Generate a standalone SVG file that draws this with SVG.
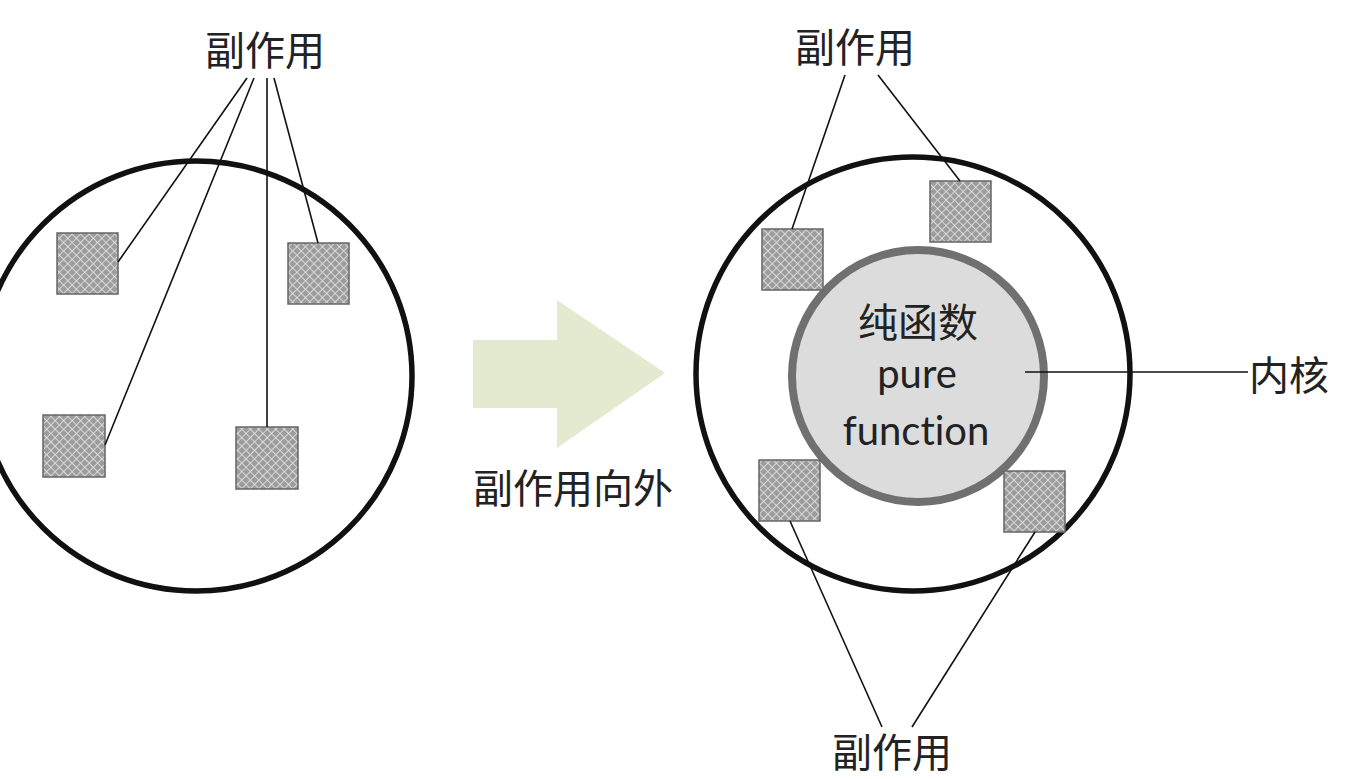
<svg xmlns="http://www.w3.org/2000/svg" width="1367" height="779" viewBox="0 0 1367 779">
<style>
.cjk{font-family:"Noto Sans CJK SC","Noto Sans",sans-serif;font-size:40px;fill:#222;text-anchor:middle}
.lat{font-family:Lato,"Open Sans",sans-serif;font-size:40px;fill:#222;text-anchor:middle;font-variant-ligatures:none}
.outer{fill:none;stroke:#111;stroke-width:5.5}
.box{fill:url(#hatch);stroke:#666;stroke-width:1.5}
.conn line{stroke:#111;stroke-width:1.6}
</style>
<defs>
<pattern id="hatch" width="6" height="6" patternUnits="userSpaceOnUse" patternTransform="rotate(45)">
<rect width="6" height="6" fill="#9c9c9c"/>
<line x1="0" y1="0" x2="6" y2="0" stroke="#e6e6e6" stroke-width="1.6"/>
<line x1="0" y1="0" x2="0" y2="6" stroke="#e6e6e6" stroke-width="1.6"/>
</pattern>
</defs>
<rect width="1367" height="779" fill="#fff"/>

<g id="left-system">
<ellipse class="outer" cx="196" cy="376" rx="216" ry="215"/>
</g>
<g id="left-box1"><rect class="box" x="57" y="233" width="61" height="61"/></g>
<g id="left-box2"><rect class="box" x="288" y="243" width="61" height="61"/></g>
<g id="left-box3"><rect class="box" x="43" y="415" width="62" height="62"/></g>
<g id="left-box4"><rect class="box" x="236" y="427" width="62" height="62"/></g>
<g id="left-label"><text class="cjk" x="265" y="65">副作用</text></g>

<g id="arrow">
<polygon points="473,340 557,340 557,300 665,373 557,448 557,408 473,408" fill="#e3eacf"/>
<text class="cjk" x="573" y="503">副作用向外</text>
</g>

<g id="right-system">
<circle class="outer" cx="913" cy="374" r="217"/>
</g>
<g id="core">
<circle cx="918" cy="376" r="126" fill="#dcdcdc" stroke="#707070" stroke-width="8"/>
<text class="cjk" x="918" y="337">纯函数</text>
<text class="lat" x="917" y="388">pure</text>
<text class="lat" x="916" y="445">function</text>
</g>
<g id="right-box1"><rect class="box" x="762" y="229" width="61" height="61"/></g>
<g id="right-box2"><rect class="box" x="930" y="181" width="61" height="61"/></g>
<g id="right-box3"><rect class="box" x="759" y="460" width="61" height="61"/></g>
<g id="right-box4"><rect class="box" x="1004" y="471" width="61" height="61"/></g>
<g id="right-top-label"><text class="cjk" x="855" y="62">副作用</text></g>
<g id="right-bottom-label"><text class="cjk" x="892" y="767">副作用</text></g>
<g id="kernel-label"><text class="cjk" x="1289" y="390">内核</text></g>

<g id="connectors" class="conn">
<line x1="247" y1="78" x2="118" y2="262"/>
<line x1="254" y1="78" x2="105" y2="445"/>
<line x1="267" y1="78" x2="267" y2="427"/>
<line x1="274" y1="78" x2="318" y2="243"/>
<line x1="845" y1="75" x2="792" y2="229"/>
<line x1="878" y1="75" x2="960" y2="181"/>
<line x1="790" y1="521" x2="882" y2="727"/>
<line x1="1035" y1="532" x2="912" y2="727"/>
<line x1="1025" y1="372" x2="1248" y2="372"/>
</g>
</svg>
